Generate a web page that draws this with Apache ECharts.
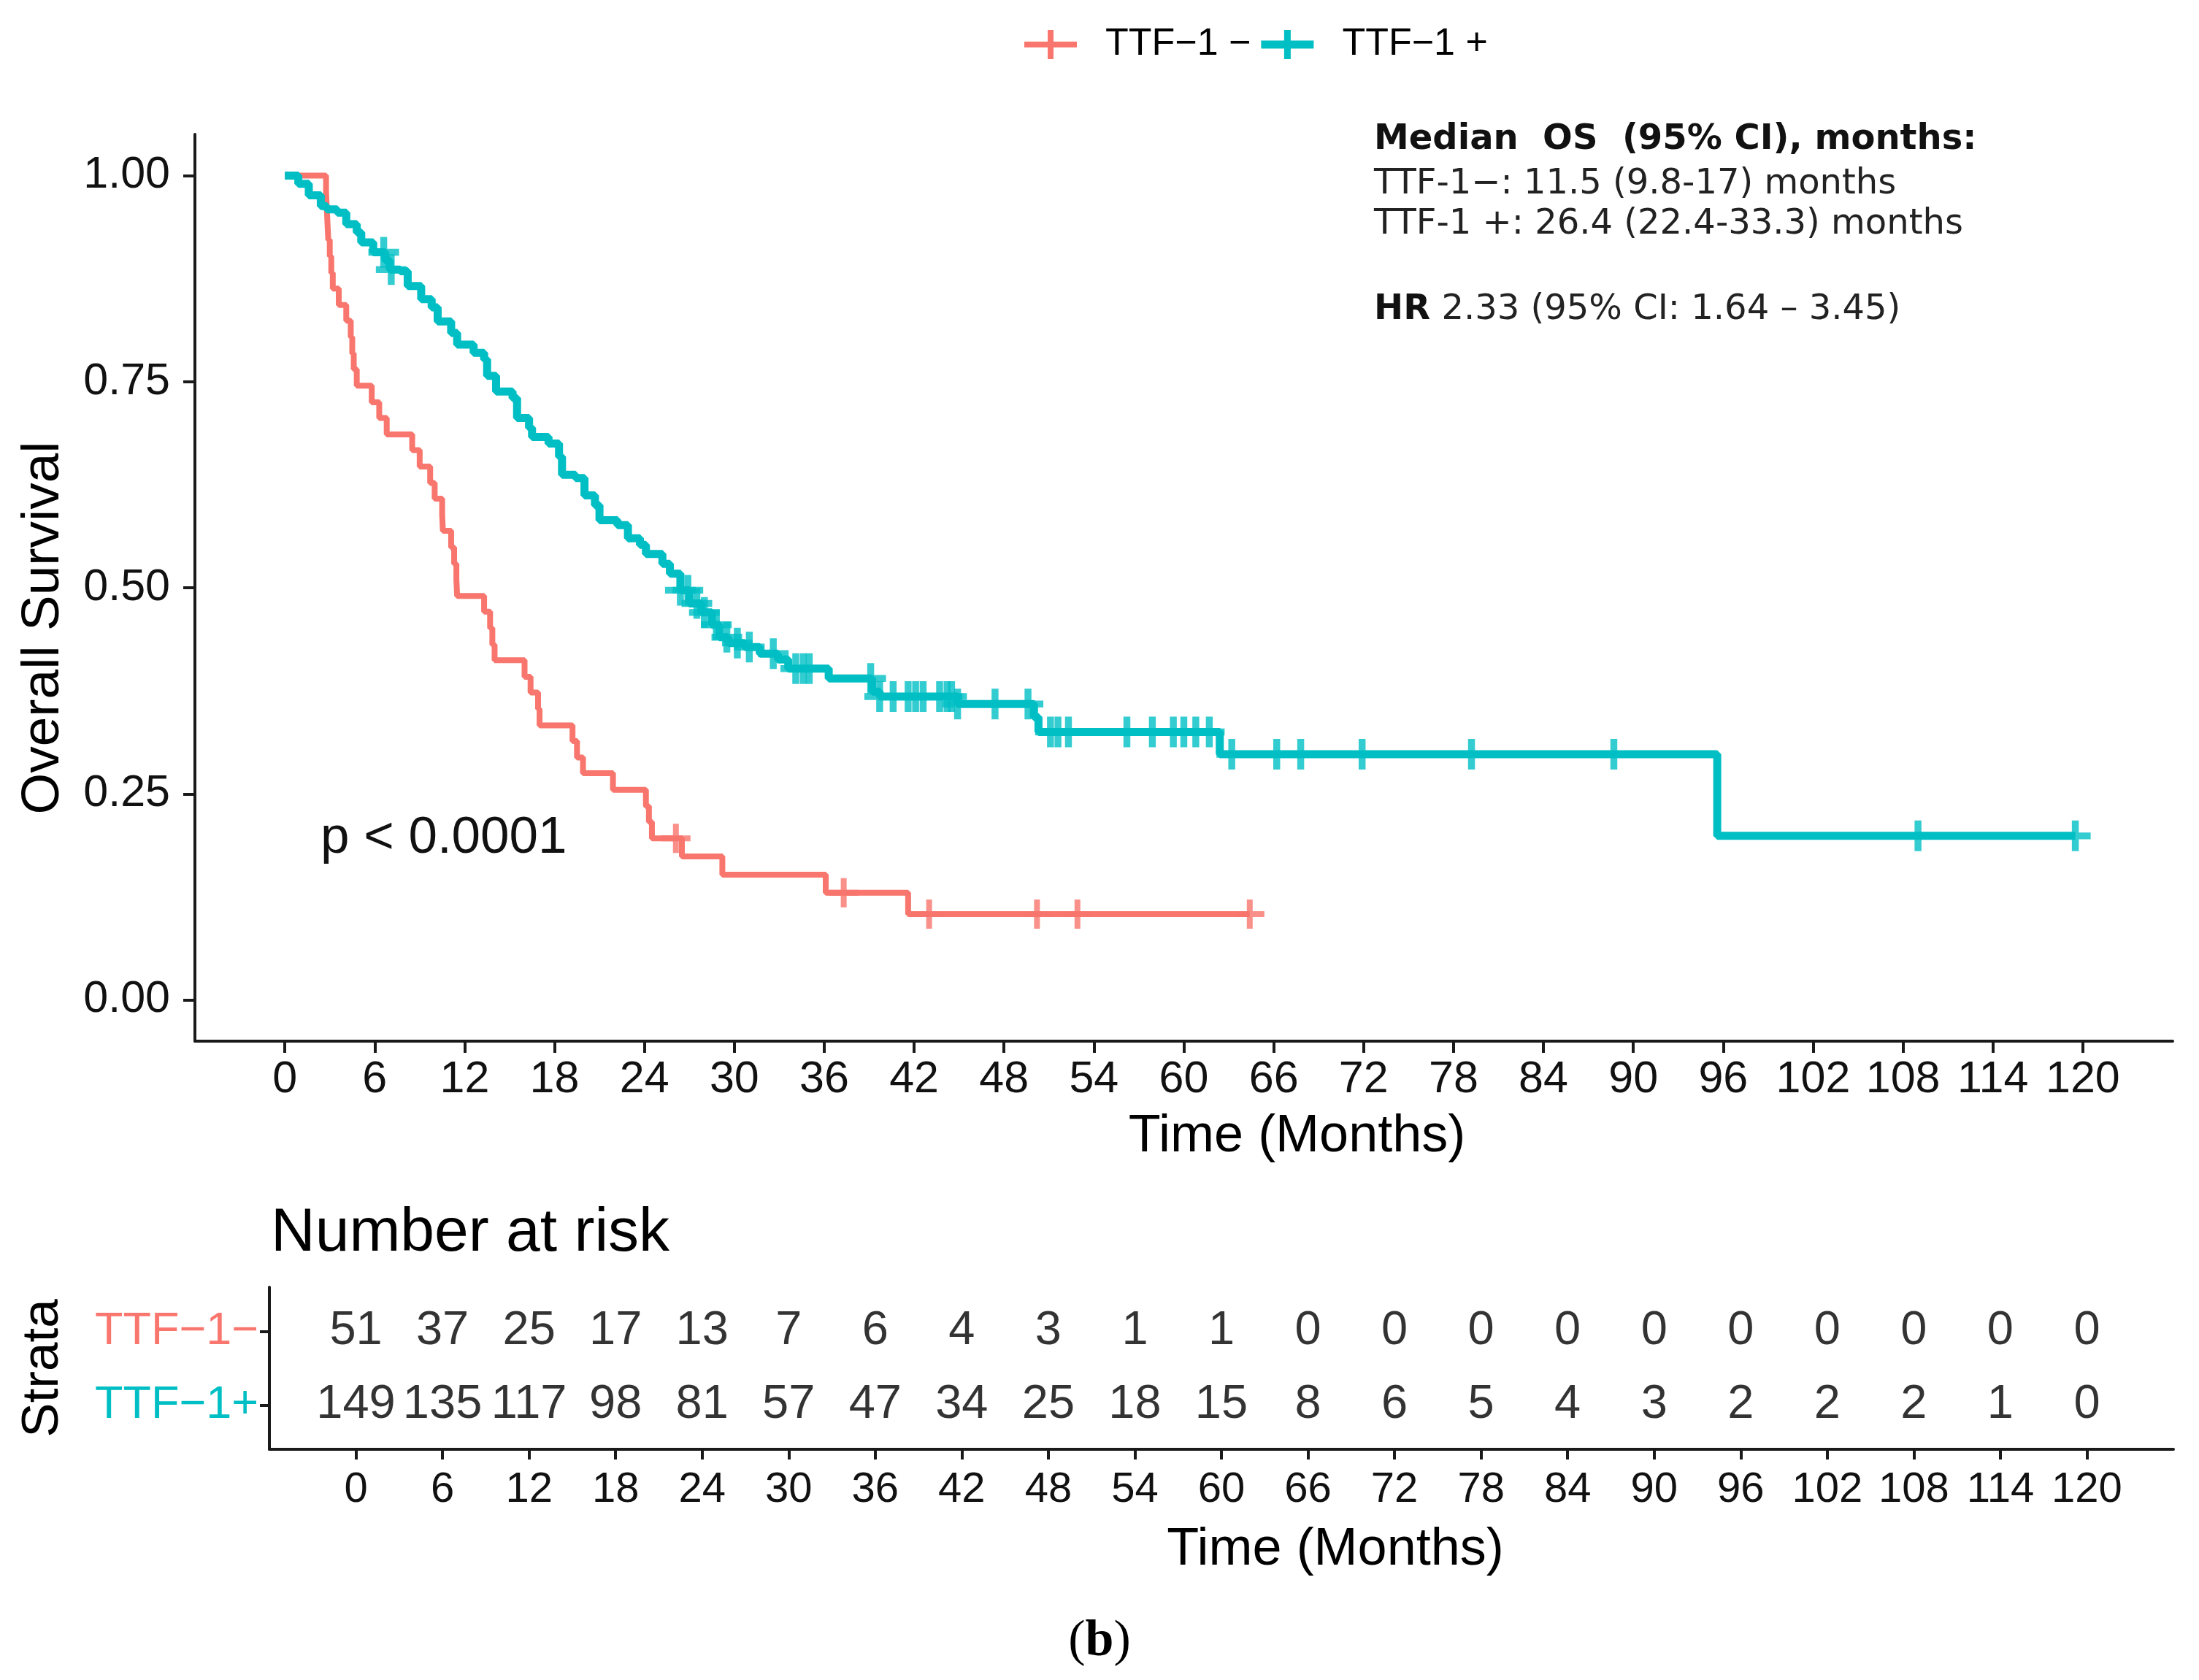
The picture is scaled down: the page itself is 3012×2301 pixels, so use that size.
<!DOCTYPE html>
<html><head><meta charset="utf-8">
<script src="https://cdn.jsdelivr.net/npm/echarts@6/dist/echarts.min.js"></script>
<style>html,body{margin:0;padding:0;background:#fff}#c{width:3012px;height:2301px}</style>
</head><body><div id="c"></div>
<script>
// ---- data ----
const negTimes = [0, 2.75, 2.8, 2.85, 2.9, 3.0, 3.1, 3.2, 3.6, 4.1, 4.4, 4.5, 4.6, 4.8, 5.8, 6.3, 6.8, 8.5, 9.0, 9.7, 10.0, 10.5, 10.55, 11.1, 11.3, 11.45, 11.5, 13.3, 13.7, 13.85, 14.0, 16.0, 16.4, 16.9, 17.0, 19.2, 19.5, 19.9, 21.9, 24.1, 24.3, 24.5, 26.5, 29.2, 36.1, 41.6, 64.4];
const negSurv = [1, 0.980, 0.961, 0.941, 0.922, 0.902, 0.882, 0.863, 0.843, 0.824, 0.804, 0.784, 0.765, 0.745, 0.725, 0.706, 0.686, 0.667, 0.647, 0.627, 0.608, 0.588, 0.569, 0.549, 0.529, 0.510, 0.490, 0.471, 0.451, 0.431, 0.412, 0.392, 0.373, 0.353, 0.333, 0.314, 0.294, 0.275, 0.255, 0.235, 0.216, 0.196, 0.174, 0.152, 0.130, 0.104, 0.104];
const negCensor = [26.1, 37.3, 43.0, 50.2, 52.9, 64.4];

const posTimes = [0, 0.9, 1.6, 2.4, 2.8, 3.5, 4.1, 4.8, 5.1, 5.9, 6.7, 7.0, 7.7, 8.2, 9.1, 9.8, 10.2, 11.1, 11.5, 12.6, 13.3, 13.5, 14.1, 15.2, 15.5, 16.3, 16.5, 17.6, 18.3, 18.5, 19.4, 20.0, 20.7, 21.0, 22.2, 22.9, 23.7, 24.1, 25.2, 25.7, 26.4, 27.0, 27.8, 28.5, 29.0, 29.6, 30.7, 31.7, 32.9, 33.6, 36.3, 39.2, 39.7, 44.9, 50.0, 50.3, 62.4, 95.6, 119.5];
const posSurv = [1, 0.990, 0.976, 0.963, 0.959, 0.955, 0.941, 0.931, 0.919, 0.907, 0.897, 0.886, 0.884, 0.866, 0.850, 0.840, 0.823, 0.809, 0.795, 0.785, 0.777, 0.757, 0.738, 0.730, 0.706, 0.694, 0.683, 0.675, 0.659, 0.637, 0.633, 0.612, 0.600, 0.582, 0.576, 0.560, 0.552, 0.541, 0.529, 0.517, 0.497, 0.481, 0.470, 0.455, 0.440, 0.433, 0.428, 0.420, 0.413, 0.402, 0.390, 0.374, 0.368, 0.359, 0.343, 0.325, 0.298, 0.199, 0.199];
const posCensor = [6.6, 7.1, 26.4, 26.9, 27.5, 28.0, 28.8, 29.5, 30.2, 31.0, 32.6, 34.1, 34.6, 35.0, 39.1, 39.7, 40.6, 41.6, 42.1, 42.6, 43.7, 44.2, 44.5, 44.9, 47.4, 49.6, 51.1, 51.6, 52.3, 56.2, 57.9, 59.3, 60.0, 60.8, 61.7, 63.2, 66.2, 67.8, 71.9, 79.2, 88.7, 109.0, 119.5];

const riskTimes = [0, 6, 12, 18, 24, 30, 36, 42, 48, 54, 60, 66, 72, 78, 84, 90, 96, 102, 108, 114, 120];
const riskNeg = [51, 37, 25, 17, 13, 7, 6, 4, 3, 1, 1, 0, 0, 0, 0, 0, 0, 0, 0, 0, 0];
const riskPos = [149, 135, 117, 98, 81, 57, 47, 34, 25, 18, 15, 8, 6, 5, 4, 3, 2, 2, 2, 1, 0];

const xTicks = [0, 6, 12, 18, 24, 30, 36, 42, 48, 54, 60, 66, 72, 78, 84, 90, 96, 102, 108, 114, 120];
const yTicks = [0, 0.25, 0.5, 0.75, 1];
const legendNames = ['TTF\u22121 \u2212', 'TTF\u22121 +'];
const strataNames = ['TTF\u22121\u2212', 'TTF\u22121+'];

// ---- helpers ----
const RED = '#F8766D', TEAL = '#00BFC4', FONT = '"Liberation Sans", Arial, sans-serif';
function stepAt(times, surv, t) {
  let v = surv[0];
  for (let i = 0; i < times.length; i++) { if (times[i] <= t) v = surv[i]; else break; }
  return v;
}
const zip = (a, b) => a.map((x, i) => [x, b[i]]);
const plusRed = 'path://M16,0h8v16h16v8h-16v16h-8v-16h-16v-8h16z';
const plusTeal = 'path://M15.5,0h9v15.5h15.5v9h-15.5v15.5h-9v-15.5h-15.5v-9h15.5z';
const iconRed = 'path://M0,16h72v8h-72z M32,0h8v40h-8z';
const iconTeal = 'path://M0,14.5h72v11h-72z M31.5,0h9v40h-9z';

const chart = echarts.init(document.getElementById('c'), null, { renderer: 'canvas' });
const axisLine = { show: true, onZero: false, lineStyle: { color: '#1a1a1a', width: 4 } };

chart.setOption({
  animation: false,
  backgroundColor: '#fff',
  textStyle: { fontFamily: FONT },
  title: {
    text: 'Number at risk', left: 371, top: 1648, padding: 0,
    textStyle: { fontSize: 84, fontWeight: 'normal', color: '#000', fontFamily: FONT }
  },
  legend: {
    left: 1398, top: 30, itemWidth: 72, itemHeight: 40, itemGap: 14,
    textStyle: { fontSize: 52, color: '#000', fontFamily: FONT, padding: [0, 0, 0, 34] },
    data: [{ name: legendNames[0], icon: iconRed }, { name: legendNames[1], icon: iconTeal }]
  },
  grid: [
    { left: 267, right: 36, top: 184, bottom: 875 },
    { left: 369, right: 35, top: 1763, bottom: 316 }
  ],
  xAxis: [
    {
      type: 'value', gridIndex: 0, min: -6, max: 126,
      axisLine: axisLine, splitLine: { show: false },
      axisTick: { show: true, customValues: xTicks, length: 16, lineStyle: { color: '#1a1a1a', width: 4 } },
      axisLabel: { customValues: xTicks, fontSize: 61, color: '#111', margin: 23, fontFamily: FONT },
      name: 'Time (Months)', nameLocation: 'middle', nameGap: 95,
      nameTextStyle: { fontSize: 72, color: '#000', fontFamily: FONT, padding: [0, 0, 0, 310] }
    },
    {
      type: 'value', gridIndex: 1, min: -6, max: 126,
      axisLine: axisLine, splitLine: { show: false },
      axisTick: { show: true, customValues: riskTimes, length: 14, lineStyle: { color: '#1a1a1a', width: 4 } },
      axisLabel: { customValues: riskTimes, fontSize: 58, color: '#111', margin: 27, fontFamily: FONT },
      name: 'Time (Months)', nameLocation: 'middle', nameGap: 102,
      nameTextStyle: { fontSize: 72, color: '#000', fontFamily: FONT, padding: [0, 0, 0, 312] }
    }
  ],
  yAxis: [
    {
      type: 'value', gridIndex: 0, min: -0.05, max: 1.05,
      axisLine: axisLine, splitLine: { show: false },
      axisTick: { show: true, customValues: yTicks, length: 16, lineStyle: { color: '#1a1a1a', width: 4 } },
      axisLabel: { customValues: yTicks, fontSize: 61, color: '#111', margin: 34, fontFamily: FONT,
        formatter: v => v.toFixed(2) },
      name: 'Overall Survival', nameLocation: 'middle', nameGap: 171,
      nameTextStyle: { fontSize: 73, color: '#000', fontFamily: FONT, padding: [0, 110, 0, 0] }
    },
    {
      type: 'value', gridIndex: 1, min: 0.4, max: 2.6, inverse: true,
      axisLine: axisLine, splitLine: { show: false },
      axisTick: { show: true, customValues: [1, 2], length: 13, lineStyle: { color: '#1a1a1a', width: 4 } },
      axisLabel: {
        customValues: [1, 2], margin: 15,
        formatter: v => (v === 1 ? '{a|' + strataNames[0] + '}' : '{b|' + strataNames[1] + '}'),
        rich: { a: { color: RED, fontSize: 63, fontFamily: FONT }, b: { color: TEAL, fontSize: 63, fontFamily: FONT } }
      },
      name: 'Strata', nameLocation: 'middle', nameGap: 274,
      nameTextStyle: { fontSize: 71, color: '#000', fontFamily: FONT }
    }
  ],
  series: [
    {
      name: legendNames[0], type: 'line', step: 'end', xAxisIndex: 0, yAxisIndex: 0,
      data: zip(negTimes, negSurv), showSymbol: false, symbol: 'none',
      itemStyle: { color: RED }, lineStyle: { color: RED, width: 8 }, z: 2
    },
    {
      name: legendNames[0], type: 'scatter', xAxisIndex: 0, yAxisIndex: 0,
      data: negCensor.map(t => [t, stepAt(negTimes, negSurv, t)]),
      symbol: plusRed, symbolSize: 40, itemStyle: { color: RED }, z: 2
    },
    {
      name: legendNames[1], type: 'line', step: 'end', xAxisIndex: 0, yAxisIndex: 0,
      data: zip(posTimes, posSurv), showSymbol: false, symbol: 'none',
      itemStyle: { color: TEAL }, lineStyle: { color: TEAL, width: 11 }, z: 3
    },
    {
      name: legendNames[1], type: 'scatter', xAxisIndex: 0, yAxisIndex: 0,
      data: posCensor.map(t => [t, stepAt(posTimes, posSurv, t)]),
      symbol: plusTeal, symbolSize: 42, itemStyle: { color: TEAL }, z: 3
    },
    {
      name: 'riskNeg', type: 'scatter', xAxisIndex: 1, yAxisIndex: 1,
      data: riskTimes.map((t, i) => [t, 1, riskNeg[i]]),
      symbolSize: 1, itemStyle: { color: 'rgba(0,0,0,0)' },
      label: { show: true, position: 'inside', formatter: p => String(p.value[2]), fontSize: 65, color: '#000', fontFamily: FONT }
    },
    {
      name: 'riskPos', type: 'scatter', xAxisIndex: 1, yAxisIndex: 1,
      data: riskTimes.map((t, i) => [t, 2, riskPos[i]]),
      symbolSize: 1, itemStyle: { color: 'rgba(0,0,0,0)' },
      label: { show: true, position: 'inside', formatter: p => String(p.value[2]), fontSize: 65, color: '#000', fontFamily: FONT }
    }
  ],
  graphic: [
    { type: 'text', left: 439, top: 1113, style: { text: 'p < 0.0001', font: '71px "Liberation Sans"', fill: '#111' } },
    { type: 'text', left: 1882, top: 168, style: { text: 'Median  OS  (95% CI), months:', font: 'bold 48px "DejaVu Sans"', fill: '#111' } },
    { type: 'text', left: 1882, top: 229, style: { text: 'TTF-1\u2212: 11.5 (9.8-17) months', font: '48px "DejaVu Sans"', fill: '#222' } },
    { type: 'text', left: 1882, top: 284, style: { text: 'TTF-1 +: 26.4 (22.4-33.3) months', font: '48px "DejaVu Sans"', fill: '#222' } },
    { type: 'text', left: 1882, top: 401, style: {
        text: '{b|HR} 2.33 (95% CI: 1.64 \u2013 3.45)', font: '48px "DejaVu Sans"', fill: '#222',
        rich: { b: { fontWeight: 'bold', fontSize: 48, fontFamily: 'DejaVu Sans', fill: '#111' } } } },
    { type: 'text', left: 'center', top: 2214, style: {
        text: '{n|(}{b|b}{n|)}',
        rich: { n: { fontSize: 70, fontFamily: '"Liberation Serif"', fill: '#000' },
                b: { fontSize: 70, fontFamily: '"Liberation Serif"', fontWeight: 'bold', fill: '#000' } } } }
  ]
});
</script></body></html>
